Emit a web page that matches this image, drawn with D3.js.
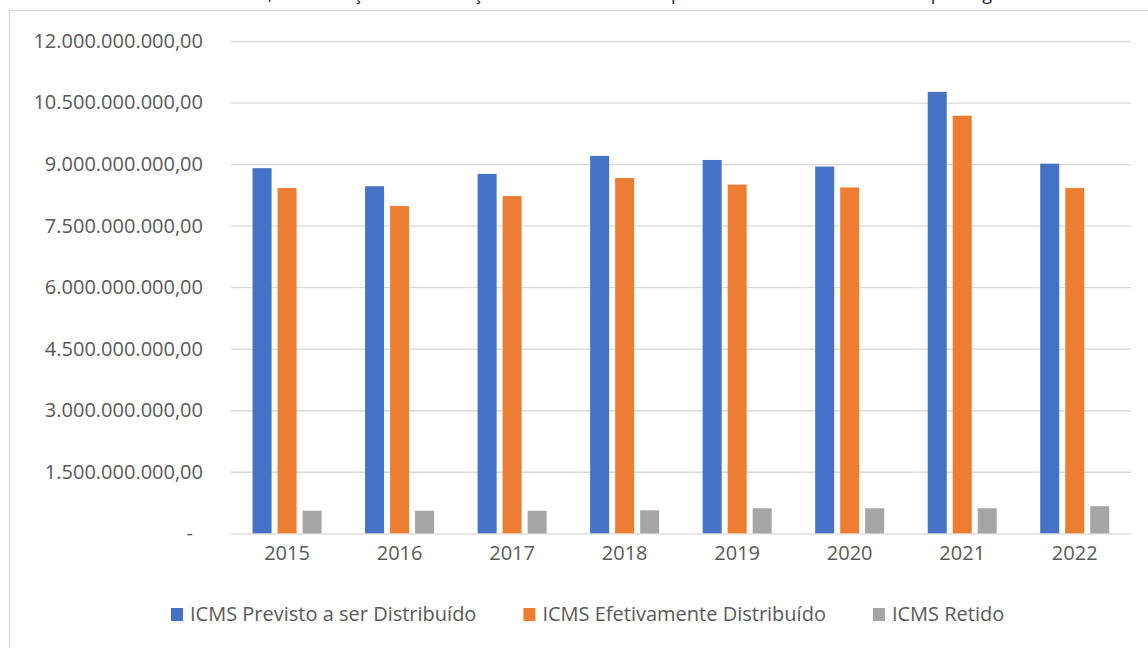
<!DOCTYPE html>
<html>
<head>
<meta charset="utf-8">
<script src="https://cdn.jsdelivr.net/npm/d3@7/dist/d3.min.js"></script>
<style>
  body { margin: 0; background: #fff; }
  svg text { font-family: "Open Sans", sans-serif; }
</style>
</head>
<body>
<script>
var years = ["2015", "2016", "2017", "2018", "2019", "2020", "2021", "2022"];
var seriesNames = ["ICMS Previsto a ser Distribuído", "ICMS Efetivamente Distribuído", "ICMS Retido"];
var previsto = [8.90e9, 8.46e9, 8.76e9, 9.20e9, 9.10e9, 8.94e9, 10.76e9, 9.01e9];
var efetivo = [8.415e9, 7.98e9, 8.22e9, 8.66e9, 8.50e9, 8.43e9, 10.18e9, 8.415e9];
var retido = [0.55e9, 0.55e9, 0.55e9, 0.56e9, 0.61e9, 0.61e9, 0.61e9, 0.66e9];
var yTicks = [0, 1.5e9, 3e9, 4.5e9, 6e9, 7.5e9, 9e9, 10.5e9, 12e9];
var colors = ["#4472C4", "#ED7D31", "#A5A5A5"];
var title = "Gráfico 1 – ICMS, Arrecadação e Distribuição do ICMS aos Municípios de 2015 a 2022 no Estado por região";

var width = 1148,
  height = 648,
  plotLeft = 230.8,
  plotRight = 1131,
  plotTop = 41,
  plotBottom = 533.3;

var rows = years.map((yr, i) => ({ year: yr, values: [previsto[i], efetivo[i], retido[i]] }));

var ptBR = d3.formatLocale({ decimal: ",", thousands: ".", grouping: [3], currency: ["", ""] });
var fmt = ptBR.format(",.2f");

var svg = d3
  .select("body")
  .append("svg")
  .attr("width", width)
  .attr("height", height);

// chart frame (cut off at right and bottom like the source)
svg
  .append("rect")
  .attr("x", 9.5)
  .attr("y", 10.5)
  .attr("width", 1300)
  .attr("height", 800)
  .attr("fill", "#fff")
  .attr("stroke", "#d9d9d9")
  .attr("stroke-width", 1.3);

// title, mostly cropped above the frame
var titleText = svg
  .append("text")
  .attr("y", 0)
  .attr("font-size", 18)
  .attr("fill", "#222")
  .text(title);
var commaPos = titleText.node().getSubStringLength(0, title.indexOf(","));
titleText.attr("x", 268 - commaPos);

var x0 = d3.scaleBand().domain(years).range([plotLeft, plotRight]).padding(0);

var x1 = d3
  .scaleBand()
  .domain(seriesNames)
  .range([0, x0.bandwidth()])
  .paddingInner(0.24)
  .paddingOuter(0.87);

var yScale = d3.scaleLinear().domain([0, 12e9]).range([plotBottom, plotTop]);

// gridlines
svg
  .append("g")
  .attr("class", "grid")
  .attr("transform", `translate(${plotLeft},0)`)
  .call(d3.axisLeft(yScale).tickValues(yTicks).tickSize(-(plotRight - plotLeft)).tickFormat(""))
  .call((g) => g.select(".domain").remove())
  .call((g) => g.selectAll("line").attr("stroke", "#d9d9d9").attr("stroke-width", 1.3));

// y axis labels
var yAxis = svg
  .append("g")
  .attr("transform", `translate(203,0)`)
  .call(
    d3
      .axisLeft(yScale)
      .tickValues(yTicks)
      .tickSize(0)
      .tickFormat((d) => (d === 0 ? "-" : fmt(d)))
  );
yAxis.select(".domain").remove();
yAxis
  .selectAll("text")
  .attr("x", (d) => (d === 0 ? -10 : 0))
  .attr("font-size", 20)
  .attr("fill", "#595959")
  .style("font-family", "'Open Sans', sans-serif");

// x axis labels
var xAxis = svg
  .append("g")
  .attr("transform", `translate(0,${plotBottom})`)
  .call(d3.axisBottom(x0).tickSize(0));
xAxis.select(".domain").remove();
xAxis
  .selectAll("text")
  .attr("y", 13)
  .attr("font-size", 20)
  .attr("fill", "#595959")
  .style("font-family", "'Open Sans', sans-serif");

// bars
var groups = svg
  .append("g")
  .selectAll("g")
  .data(rows)
  .enter()
  .append("g")
  .attr("transform", (d) => `translate(${x0(d.year)},0)`);

groups
  .selectAll("rect")
  .data((d) => d.values.map((v, i) => ({ name: seriesNames[i], value: v, i: i })))
  .enter()
  .append("rect")
  .attr("x", (d) => x1(d.name))
  .attr("y", (d) => yScale(d.value))
  .attr("width", x1.bandwidth())
  .attr("height", (d) => yScale(0) - yScale(d.value))
  .attr("fill", (d) => colors[d.i]);

// legend
var legend = svg.append("g").attr("transform", "translate(171,608)");
var lx = 0;
seriesNames.forEach((name, i) => {
  var item = legend.append("g").attr("transform", `translate(${lx},0)`);
  item.append("rect").attr("width", 12).attr("height", 13).attr("fill", colors[i]);
  var t = item
    .append("text")
    .attr("x", 19)
    .attr("y", 13)
    .attr("font-size", 20)
    .attr("fill", "#595959")
    .text(name);
  lx += 19 + t.node().getComputedTextLength() + 47;
});
</script>
</body>
</html>
